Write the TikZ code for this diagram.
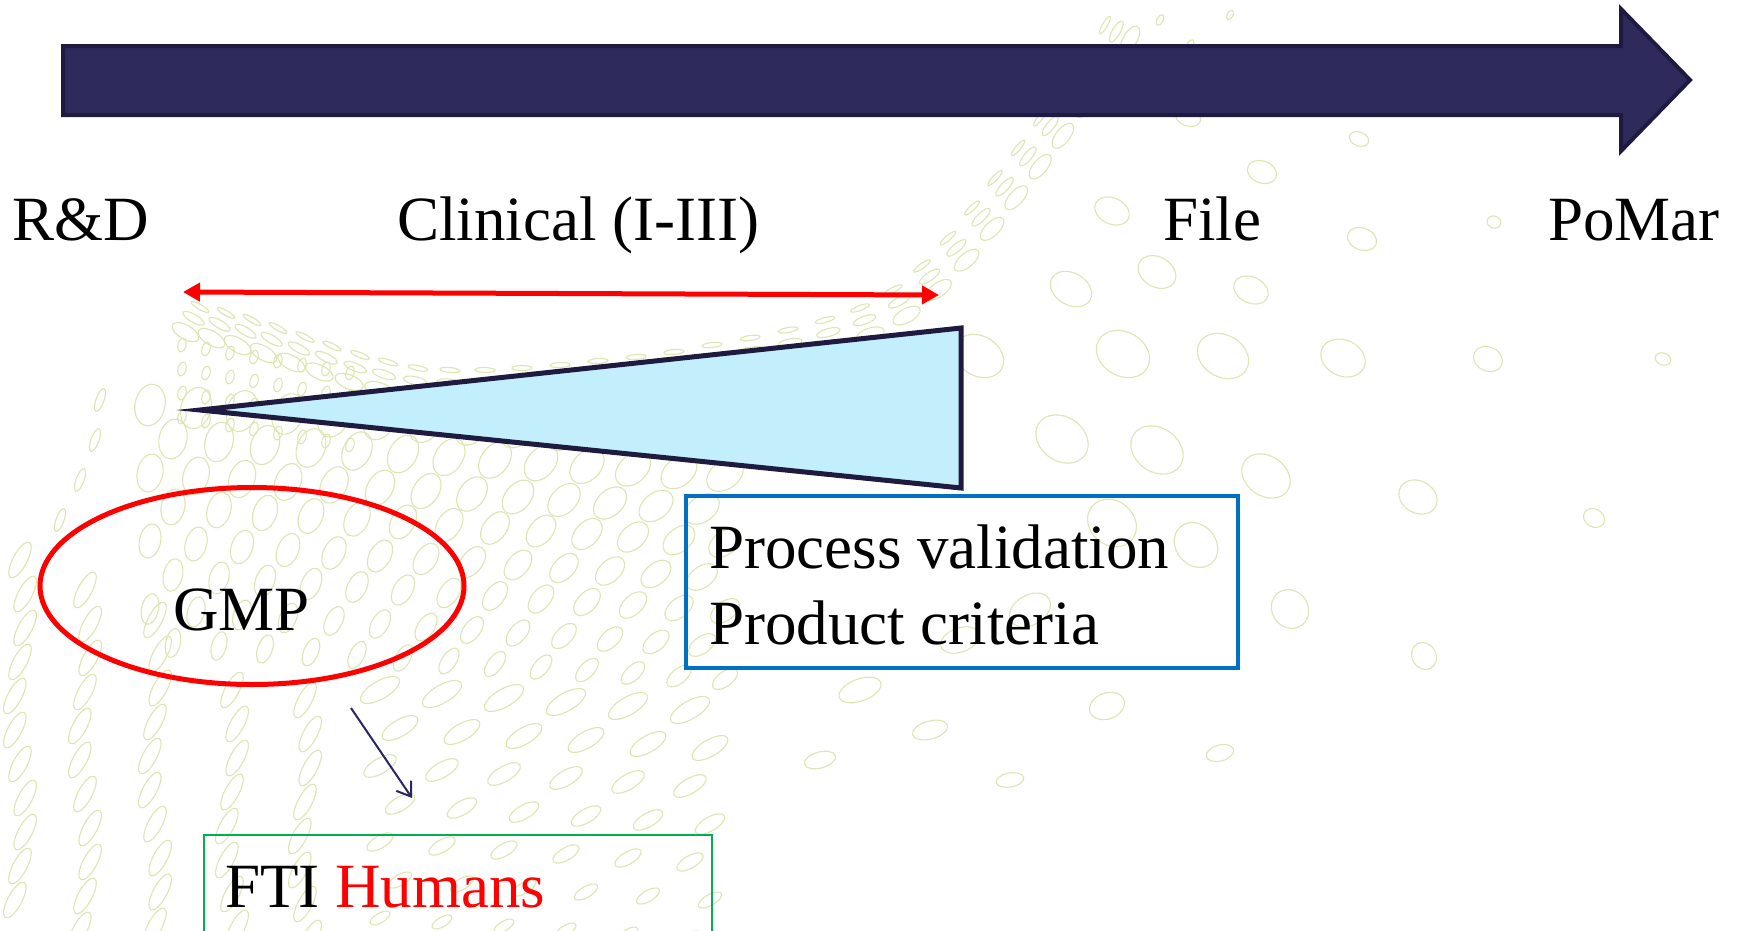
\documentclass[tikz,border=0pt]{standalone}
\usepackage{fontspec}
\setmainfont{Liberation Serif}
\usetikzlibrary{arrows.meta,shapes.geometric}
\definecolor{arrfill}{HTML}{2F2A5C}
\definecolor{arrline}{HTML}{1F1B40}
\definecolor{tribl}{HTML}{C3EEFC}
\definecolor{boxblue}{HTML}{0070C0}
\definecolor{boxgreen}{HTML}{00B050}
\definecolor{bgc}{RGB}{220,230,178}
\definecolor{pred}{HTML}{FF0000}
\definecolor{smallnavy}{HTML}{2A2660}
\newcommand\bgel[5]{\draw[bgline,shift={(#1,#2)},rotate=#5] (0,0) ellipse [x radius=#3, y radius=#4];}
\begin{document}
\begin{tikzpicture}[x=1pt,y=-1pt,
  bgline/.style={draw=bgc,line width=1.1pt},
  lbl/.style={inner sep=0pt,anchor=base west,font=\fontsize{63}{72}\selectfont,text=black},
  redarrow/.style={draw=pred,line width=5pt,{Triangle[length=17pt,width=18pt]}-{Triangle[length=17pt,width=18pt]}},
  navyarrow/.style={draw=smallnavy,line width=2pt,-{Straight Barb[length=13pt,width=18pt]}}]
\clip (0,0) rectangle (1744,930);
\fill[white] (0,0) rectangle (1744,930);
% ---------- background pattern ----------
% swoosh band
\foreach \x/\y/\a in {1105/25/60,1085/55/58,1062/88/55,1040/118/52,1018/148/50,995/178/47,972/208/44,948/238/40,922/266/35,893/290/28,860/308/20,825/320/15,788/330/10,750/338/8,712/345/6,674/352/5,636/357/4,598/361/3,560/365/2,522/368/0,485/370/-2,450/370/-6,418/368/-12,388/362/-18,360/355/-22,332/346/-26,305/337/-28,278/328/-30,252/320/-30,226/313/-30,200/307/-30}{
  \foreach \d/\ra/\rb in {0/10/2.5,13/12/4,29/15/7}{
    \pgfmathsetmacro\pX{\x+\d*sin(\a)}
    \pgfmathsetmacro\pY{\y+\d*cos(\a)}
    \bgel{\pX}{\pY}{\ra}{\rb}{\a}
  }
}
% small dots upper left
\foreach \i in {0,...,7}{
  \foreach \j in {0,...,3}{
    \pgfmathsetmacro\pX{182+24*\i}
    \pgfmathsetmacro\pY{345+24*\j+4*\i}
    \bgel{\pX}{\pY}{7}{4}{75}
  }
}
% mesh under the triangle
\foreach \i in {0,...,12}{
  \foreach \j in {0,...,7}{
    \pgfmathsetmacro\pX{150+46*\i+23*mod(\j,2)}
    \pgfmathsetmacro\pY{405+34*\j+3*\i}
    \pgfmathsetmacro\rA{21-\j*0.9}
    \pgfmathsetmacro\rB{15-\j*1.1}
    \pgfmathsetmacro\aN{78-3.5*\i}
    \bgel{\pX}{\pY}{\rA}{\rB}{\aN}
  }
}
% columns lower left
\foreach \cx/\ys in {20/560,85/590,155/620,232/690,305/700}{
  \foreach \k in {0,...,10}{
    \pgfmathsetmacro\pY{\ys+34*\k}
    \pgfmathsetmacro\pX{\cx+6*sin(60*\k)}
    \bgel{\pX}{\pY}{20}{7}{62}
  }
}
\foreach \x/\y in {100/400,95/440,80/480,60/520}{\bgel{\x}{\y}{12}{4}{70}}
% bottom middle
\foreach \i in {0,...,5}{
  \foreach \j in {0,...,6}{
    \pgfmathsetmacro\pX{380+62*\i+20*mod(\j,2)}
    \pgfmathsetmacro\pY{690+38*\j+4*\i}
    \pgfmathsetmacro\rA{22-\j*1.8}
    \pgfmathsetmacro\rB{9-\j*0.7}
    \bgel{\pX}{\pY}{\rA}{\rB}{30}
  }
}
% right fan
\foreach \x/\y/\ra/\rb/\a in {1188/117/9/13/70,1359/139/7/10/70,1262/172/11/15/70,1112/211/13/18/65,1362/239/11/15/70,1494/222/6/7/70,1071/289/16/22/60,1157/272/15/20/60,1251/290/13/18/65,979/356/20/26/60,1123/354/22/28/60,1223/356/21/27/60,1343/358/18/23/65,1488/359/12/15/65,1663/359/6/8/70,1062/439/22/28/55,1157/450/22/28/55,1266/476/20/26/55,1418/497/16/20/60,1594/518/9/11/60,1112/523/22/26/50,1196/545/20/24/40,1290/609/18/20/35,1424/656/12/14/30,1107/706/18/13/20,1220/753/14/8/15,1030/610/22/15/30,960/640/20/12/20,860/690/22/11/20,930/730/18/9/15,820/760/16/8/15,1010/780/14/7/10,1160/20/6/3/60,1190/45/6/3/60,1230/15/5/3/60}{
  \bgel{\x}{\y}{\ra}{\rb}{\a}
}
% ---------- big timeline arrow ----------
\coordinate (shaftA) at (63,46);
\coordinate (shaftB) at (1621,46);
\coordinate (headTop) at (1621,9);
\coordinate (headTip) at (1690,80);
\coordinate (headBot) at (1621,151);
\coordinate (shaftC) at (1621,115);
\coordinate (shaftD) at (63,115);
\draw[fill=arrfill,draw=arrline,line width=4pt,line join=miter] (shaftA) -- (shaftB) -- (headTop) -- (headTip) -- (headBot) -- (shaftC) -- (shaftD) -- cycle;
% ---------- phase labels ----------
\node[lbl] (rd) at (12,240) {R\&D};
\node[lbl] (clin) at (397,240) {Clinical (I-III)};
\node[lbl] (file) at (1163,240) {File};
\node[lbl] (pomar) at (1548,240) {PoMar};
% ---------- red double arrow ----------
\coordinate (raL) at (183,292);
\coordinate (raR) at (939,295);
\draw[redarrow] (raL) -- (raR);
% ---------- wedge ----------
\coordinate (triTip) at (200,410);
\coordinate (triTop) at (961,328);
\coordinate (triBot) at (961,488);
\draw[fill=tribl,draw=arrline,line width=5pt,line join=miter] (triTip) -- (triTop) -- (triBot) -- cycle;
% ---------- GMP ellipse ----------
\node[ellipse,draw=pred,line width=5pt,minimum width=424pt,minimum height=197pt,inner sep=0pt] (gmpell) at (252,586) {};
\node[lbl] (gmp) at (173,630) {GMP};
% ---------- blue box ----------
\node[draw=boxblue,line width=4pt,minimum width=552pt,minimum height=172pt,inner sep=0pt] (pvbox) at (962,582) {};
\node[lbl] (pv) at (709,568) {Process validation};
\node[lbl] (pc) at (709,644) {Product criteria};
% ---------- green box ----------
\node[draw=boxgreen,line width=2pt,minimum width=508pt,minimum height=200pt,inner sep=0pt,anchor=north west] (ftibox) at (203,834) {};
\node[lbl] (fti) at (225,907) {FTI \textcolor{pred}{Humans}};
% ---------- small arrow ----------
\coordinate (gaS) at (351,708);
\coordinate (gaE) at (412,798);
\draw[navyarrow] (gaS) -- (gaE);
\end{tikzpicture}
\end{document}
